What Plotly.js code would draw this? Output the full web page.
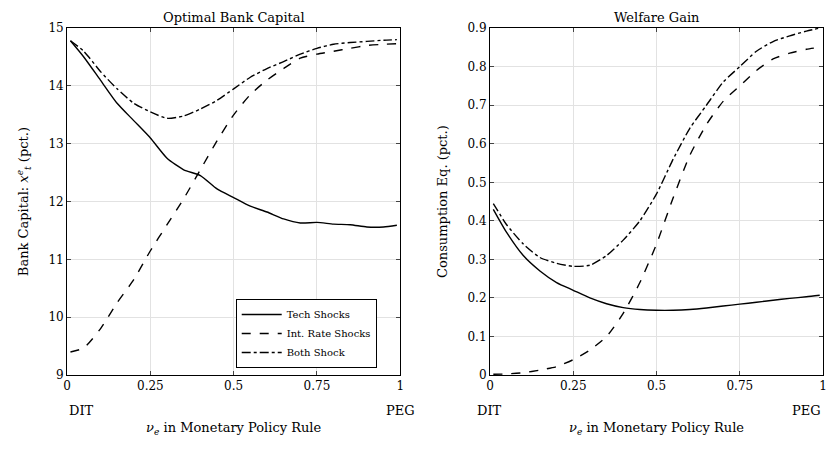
<!DOCTYPE html>
<html>
<head>
<meta charset="utf-8">
<script src="https://cdn.plot.ly/plotly-3.0.1.min.js"></script>
<style>html,body{margin:0;padding:0;background:#fff}</style>
</head>
<body>
<div id="chart" style="width:839px;height:453px"></div>
<script>
// Values.
const nu = [0.01, 0.05, 0.1, 0.15, 0.2, 0.25, 0.3, 0.35, 0.4, 0.45, 0.5, 0.55, 0.6, 0.65, 0.7, 0.75, 0.8, 0.85, 0.9, 0.95, 0.99];

const capTech = [14.78, 14.5, 14.1, 13.7, 13.4, 13.1, 12.75, 12.55, 12.45, 12.22, 12.07, 11.92, 11.82, 11.7, 11.63, 11.64, 11.61, 11.6, 11.56, 11.56, 11.59];
const capRate = [9.4, 9.47, 9.8, 10.25, 10.65, 11.15, 11.6, 12.05, 12.55, 13.05, 13.5, 13.85, 14.1, 14.3, 14.48, 14.55, 14.6, 14.65, 14.7, 14.72, 14.73];
const capBoth = [14.78, 14.6, 14.25, 13.95, 13.7, 13.55, 13.44, 13.48, 13.6, 13.75, 13.95, 14.15, 14.3, 14.42, 14.55, 14.65, 14.72, 14.75, 14.77, 14.79, 14.8];

const welTech = [0.43, 0.37, 0.31, 0.27, 0.24, 0.22, 0.2, 0.185, 0.175, 0.17, 0.168, 0.168, 0.17, 0.174, 0.179, 0.184, 0.189, 0.194, 0.199, 0.203, 0.207];
const welRate = [0.002, 0.003, 0.006, 0.013, 0.022, 0.04, 0.065, 0.1, 0.16, 0.24, 0.34, 0.46, 0.57, 0.65, 0.71, 0.75, 0.79, 0.82, 0.835, 0.845, 0.85];
const welBoth = [0.445, 0.39, 0.34, 0.305, 0.29, 0.282, 0.285, 0.31, 0.35, 0.4, 0.47, 0.56, 0.64, 0.7, 0.76, 0.8, 0.84, 0.865, 0.88, 0.892, 0.9];

const names = ["Tech Shocks", "Int. Rate Shocks", "Both Shock"];
const dashes = ["solid", "dash", "dashdot"];

const FONT = "'DejaVu Serif', 'Liberation Serif', serif";
const GRID = "#e2e2e2";

function line(y, i, xa, ya, legend) {
  return {
    x: nu, y: y, xaxis: xa, yaxis: ya, type: "scatter", mode: "lines",
    name: names[i], showlegend: legend,
    line: { color: "#000", width: 1.4, dash: dashes[i], shape: "spline", smoothing: 0.6 }
  };
}

const traces = [
  line(capTech, 0, "x", "y", true),
  line(capRate, 1, "x", "y", true),
  line(capBoth, 2, "x", "y", true),
  line(welTech, 0, "x2", "y2", false),
  line(welRate, 1, "x2", "y2", false),
  line(welBoth, 2, "x2", "y2", false)
];

function xAxis(domain, anchor) {
  return {
    domain: domain, anchor: anchor, range: [0, 1],
    tickvals: [0, 0.25, 0.5, 0.75, 1], ticktext: ["0", "0.25", "0.5", "0.75", "1"],
    ticks: "inside", ticklen: 4, mirror: "ticks", showline: true, linecolor: "#000", linewidth: 1,
    gridcolor: GRID, zeroline: false, tickfont: { size: 12 },
    title: { text: "<i>ν</i><sub><i>e</i></sub> in Monetary Policy Rule", standoff: 30, font: { size: 13 } }
  };
}

function yAxis(domain, anchor, range, dtick, title) {
  return {
    domain: domain, anchor: anchor, range: range, dtick: dtick,
    ticks: "inside", ticklen: 4, mirror: "ticks", showline: true, linecolor: "#000", linewidth: 1,
    gridcolor: GRID, zeroline: false, tickfont: { size: 12 },
    title: { text: title, standoff: 16, font: { size: 13 } }
  };
}

const labelY = 0.172 - 0.1;
const layout = {
  width: 839, height: 453,
  margin: { l: 0, r: 0, t: 0, b: 0 },
  paper_bgcolor: "#fff", plot_bgcolor: "#fff",
  font: { family: FONT, color: "#000", size: 13 },
  xaxis: xAxis([0.08, 0.477], "y"),
  yaxis: yAxis([0.172, 0.938], "x", [9, 15], 1, "Bank Capital: <i>x</i><sup><i>e</i></sup><sub><i>t</i></sub> (pct.)"),
  xaxis2: xAxis([0.584, 0.981], "y2"),
  yaxis2: yAxis([0.172, 0.938], "x2", [0, 0.9], 0.1, "Consumption Eq. (pct.)"),
  showlegend: true,
  legend: {
    x: 0.449, xanchor: "right", y: 0.34, yanchor: "top",
    bgcolor: "#fff", bordercolor: "#000", borderwidth: 1,
    font: { size: 10, family: FONT }, tracegroupgap: 0, itemwidth: 40
  },
  annotations: [
    { text: "Optimal Bank Capital", xref: "paper", yref: "paper", x: 0.2785, xanchor: "center", y: 0.94, yanchor: "bottom", showarrow: false, font: { size: 13 } },
    { text: "Welfare Gain", xref: "paper", yref: "paper", x: 0.7825, xanchor: "center", y: 0.94, yanchor: "bottom", showarrow: false, font: { size: 13 } },
    { text: "DIT", xref: "paper", yref: "paper", x: 0.08, y: labelY, showarrow: false, font: { size: 13 } },
    { text: "PEG", xref: "paper", yref: "paper", x: 0.477, y: labelY, showarrow: false, font: { size: 13 } },
    { text: "DIT", xref: "paper", yref: "paper", x: 0.584, y: labelY, showarrow: false, font: { size: 13 } },
    { text: "PEG", xref: "paper", yref: "paper", x: 0.981, y: labelY, showarrow: false, font: { size: 13 } }
  ]
};

Plotly.newPlot("chart", traces, layout, { displayModeBar: false, staticPlot: true });
</script>
</body>
</html>
